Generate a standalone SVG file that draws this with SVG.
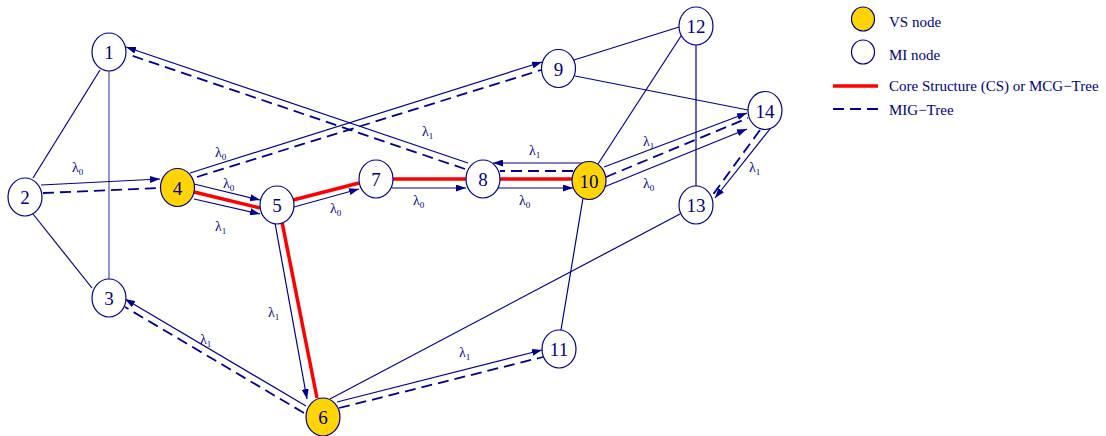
<svg xmlns="http://www.w3.org/2000/svg" width="1106" height="436" viewBox="0 0 1106 436">
<style>
.e{stroke:#000090;stroke-width:1.2;fill:none}
.a{stroke:#000090;stroke-width:1.2;fill:none;marker-end:url(#ah)}
.d{stroke:#000090;stroke-width:1.8;fill:none;stroke-dasharray:11,6}
.r{stroke:#ff0000;stroke-width:3.5;fill:none}
.mi{fill:#ffffff;stroke:#000090;stroke-width:1.2}
.vs{fill:#ffd400;stroke:#000090;stroke-width:1.2}
.n{font-family:"Liberation Serif",serif;font-size:19px;fill:#000080;text-anchor:middle}
.l{font-family:"Liberation Serif",serif;font-size:14px;fill:#000090}
.s{font-size:9px}
.lg{font-family:"Liberation Serif",serif;font-size:15px;fill:#000080}
</style>
<defs>
<marker id="ah" markerUnits="userSpaceOnUse" markerWidth="11" markerHeight="7" refX="10" refY="3.5" orient="auto">
<path d="M0,0 L10,3.5 L0,7 z" fill="#000090"/>
</marker>
</defs>
<rect width="1106" height="436" fill="#ffffff"/>
<g id="connectors">
<line class="e" x1="100" y1="70" x2="33" y2="178"/>
<line class="e" x1="109" y1="71" x2="109" y2="279" stroke-opacity="0.7"/>
<line class="e" x1="33" y1="214" x2="92" y2="288"/>
<line class="e" x1="574" y1="60" x2="679" y2="27"/>
<line class="e" x1="575" y1="76" x2="748" y2="110"/>
<line class="e" x1="681" y1="36" x2="598" y2="164"/>
<line class="e" x1="696" y1="45" x2="696" y2="186"/>
<line class="e" x1="583" y1="198" x2="561" y2="330"/>
<line class="e" x1="680" y1="214" x2="330" y2="399"/>
<line class="a" x1="41" y1="185" x2="160" y2="179"/>
<line class="d" x1="43" y1="193" x2="160" y2="188"/>
<line class="a" x1="190" y1="173" x2="542" y2="62"/>
<line class="d" x1="197" y1="177" x2="541" y2="70"/>
<line class="a" x1="468" y1="163" x2="126" y2="47"/>
<line class="d" x1="465" y1="169" x2="127" y2="54"/>
<line class="a" x1="194" y1="184" x2="260" y2="200"/>
<line class="r" x1="194" y1="192" x2="260" y2="208"/>
<line class="a" x1="194" y1="199" x2="260" y2="214"/>
<line class="r" x1="293" y1="200" x2="359" y2="183"/>
<line class="a" x1="294" y1="207" x2="359" y2="189"/>
<line class="r" x1="393" y1="179" x2="466" y2="179"/>
<line class="a" x1="392" y1="188" x2="466" y2="188"/>
<line class="a" x1="596" y1="163" x2="493" y2="163"/>
<line class="d" x1="573" y1="171" x2="500" y2="171"/>
<line class="r" x1="499" y1="179" x2="573" y2="179"/>
<line class="a" x1="498" y1="188" x2="573" y2="188"/>
<line class="a" x1="604" y1="167" x2="747" y2="113"/>
<line class="d" x1="606" y1="177" x2="748" y2="118"/>
<line class="a" x1="604" y1="187" x2="747" y2="129"/>
<line class="a" x1="770" y1="129" x2="715" y2="198"/>
<line class="d" x1="760" y1="130" x2="712" y2="196"/>
<line class="a" x1="275" y1="223" x2="307" y2="399"/>
<line class="r" x1="282" y1="222" x2="317" y2="398"/>
<line class="a" x1="306" y1="406" x2="125" y2="299"/>
<line class="d" x1="304" y1="413" x2="125" y2="307"/>
<line class="a" x1="337" y1="402" x2="542" y2="350"/>
<line class="d" x1="339" y1="408" x2="543" y2="357"/>
</g>
<g id="labels">
<text class="l" x="72" y="172">λ<tspan class="s" dy="3">0</tspan></text>
<text class="l" x="215" y="157">λ<tspan class="s" dy="3">0</tspan></text>
<text class="l" x="223" y="188">λ<tspan class="s" dy="3">0</tspan></text>
<text class="l" x="215" y="231">λ<tspan class="s" dy="3">1</tspan></text>
<text class="l" x="330" y="213">λ<tspan class="s" dy="3">0</tspan></text>
<text class="l" x="413" y="205">λ<tspan class="s" dy="3">0</tspan></text>
<text class="l" x="519" y="205">λ<tspan class="s" dy="3">0</tspan></text>
<text class="l" x="529" y="155">λ<tspan class="s" dy="3">1</tspan></text>
<text class="l" x="422" y="136">λ<tspan class="s" dy="3">1</tspan></text>
<text class="l" x="643" y="146">λ<tspan class="s" dy="3">1</tspan></text>
<text class="l" x="643" y="188">λ<tspan class="s" dy="3">0</tspan></text>
<text class="l" x="749" y="172">λ<tspan class="s" dy="3">1</tspan></text>
<text class="l" x="268" y="317">λ<tspan class="s" dy="3">1</tspan></text>
<text class="l" x="200" y="344">λ<tspan class="s" dy="3">1</tspan></text>
<text class="l" x="459" y="357">λ<tspan class="s" dy="3">1</tspan></text>
</g>
<g id="node1"><ellipse class="mi" cx="109" cy="52" rx="17" ry="19"/><text class="n" x="109" y="59">1</text></g>
<g id="node2"><ellipse class="mi" cx="25" cy="197" rx="17" ry="19"/><text class="n" x="25" y="204">2</text></g>
<g id="node3"><ellipse class="mi" cx="109" cy="298" rx="17" ry="19"/><text class="n" x="109" y="305">3</text></g>
<g id="node4"><ellipse class="vs" cx="177.5" cy="187.5" rx="17" ry="19"/><text class="n" x="177.5" y="194.5">4</text></g>
<g id="node5"><ellipse class="mi" cx="277" cy="205" rx="17" ry="19"/><text class="n" x="277" y="212">5</text></g>
<g id="node6"><ellipse class="vs" cx="323" cy="417" rx="17" ry="19"/><text class="n" x="323" y="424">6</text></g>
<g id="node7"><ellipse class="mi" cx="376" cy="179" rx="17" ry="19"/><text class="n" x="376" y="186">7</text></g>
<g id="node8"><ellipse class="mi" cx="483" cy="179" rx="17" ry="19"/><text class="n" x="483" y="186">8</text></g>
<g id="node9"><ellipse class="mi" cx="558.5" cy="68.5" rx="17" ry="19"/><text class="n" x="558.5" y="75.5">9</text></g>
<g id="node10"><ellipse class="vs" cx="589" cy="180.5" rx="17" ry="19"/><text class="n" x="589" y="187.5">10</text></g>
<g id="node11"><ellipse class="mi" cx="559" cy="349" rx="17" ry="19"/><text class="n" x="559" y="356">11</text></g>
<g id="node12"><ellipse class="mi" cx="696" cy="26" rx="17" ry="19"/><text class="n" x="696" y="33">12</text></g>
<g id="node13"><ellipse class="mi" cx="696" cy="205" rx="17" ry="19"/><text class="n" x="696" y="212">13</text></g>
<g id="node14"><ellipse class="mi" cx="765" cy="110.5" rx="17" ry="19"/><text class="n" x="765" y="117.5">14</text></g>
<g id="legend">
<ellipse class="vs" cx="863" cy="19" rx="11.5" ry="12"/>
<text class="lg" x="889" y="27">VS node</text>
<ellipse class="mi" cx="863" cy="52" rx="11.5" ry="12"/>
<text class="lg" x="889" y="60">MI node</text>
<line class="r" x1="833" y1="86" x2="878" y2="86"/>
<text class="lg" x="889" y="91">Core Structure (CS) or MCG−Tree</text>
<line class="d" x1="833" y1="109" x2="878" y2="109" stroke-dasharray="9,8"/>
<text class="lg" x="889" y="115">MIG−Tree</text>
</g>
</svg>
